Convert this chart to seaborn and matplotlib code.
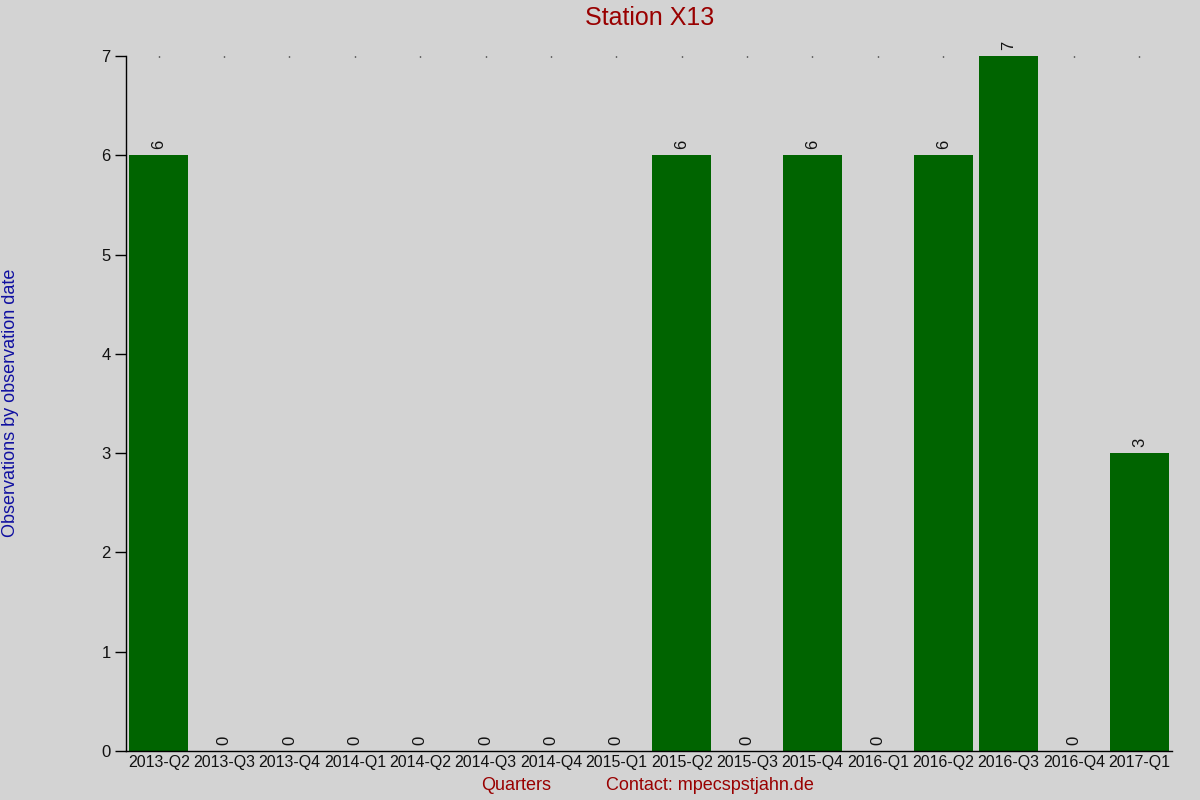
import matplotlib
matplotlib.use("Agg")
import matplotlib.pyplot as plt
import seaborn as sns
import pandas as pd

quarters = ["2013-Q2", "2013-Q3", "2013-Q4", "2014-Q1", "2014-Q2", "2014-Q3",
            "2014-Q4", "2015-Q1", "2015-Q2", "2015-Q3", "2015-Q4", "2016-Q1",
            "2016-Q2", "2016-Q3", "2016-Q4", "2017-Q1"]
counts = [6, 0, 0, 0, 0, 0, 0, 0, 6, 0, 6, 0, 6, 7, 0, 3]

df = pd.DataFrame({"quarter": quarters, "count": counts})

sns.set_theme(style="white")
plt.rcParams["font.family"] = ["Liberation Sans", "DejaVu Sans"]

fig = plt.figure(figsize=(12, 8), dpi=100, facecolor="#d3d3d3")
ax = fig.add_axes([0.105, 0.06125, 0.8717, 0.86875])
ax.set_facecolor("#d3d3d3")

sns.barplot(data=df, x="quarter", y="count", color="#006400", saturation=1,
            width=0.9, linewidth=0, edgecolor="none", ax=ax)

ax.set_xlim(-0.5, len(quarters) - 0.5)
ax.set_ylim(0, 7)
ax.set_yticks(range(0, 8))

for i, v in enumerate(counts):
    ax.text(i, v + 0.06, str(v), rotation=90, ha="center", va="bottom",
            fontsize=12, color="#111111")

for s in ["top", "right"]:
    ax.spines[s].set_visible(False)
ax.spines["left"].set_color("black")
ax.spines["bottom"].set_color("black")
ax.spines["left"].set_linewidth(1)
ax.spines["bottom"].set_linewidth(1)

ax.tick_params(axis="y", left=True, length=8, width=1, color="black",
               labelsize=12, labelcolor="#111111", pad=3)
ax.tick_params(axis="x", bottom=False, top=True, length=1, width=1,
               direction="in", color="black", labelsize=11.5,
               labelcolor="#111111", pad=3)

ax.set_xlabel("")
ax.set_ylabel("")
fig.text(0.43, 0.0175, "Quarters", color="#990000", fontsize=13, ha="center", va="center")
fig.text(0.5917, 0.0175, "Contact: mpecspstjahn.de", color="#990000", fontsize=13,
         ha="center", va="center")
fig.text(0.0085, 0.497, "Observations by observation date", color="#1010a0",
         fontsize=13, rotation=90, ha="center", va="center")
fig.text(0.5415, 0.978, "Station X13", color="#990000", fontsize=18,
         ha="center", va="center")

fig.savefig("out.png", dpi=100, facecolor=fig.get_facecolor())
